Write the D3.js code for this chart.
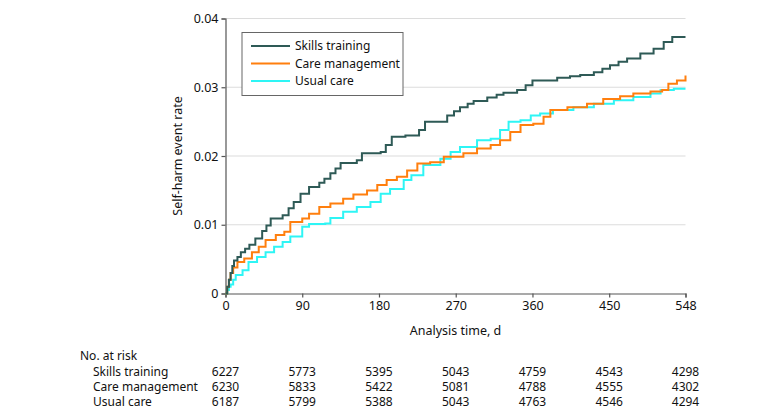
<!DOCTYPE html>
<html>
<head>
<meta charset="utf-8">
<script src="https://cdn.jsdelivr.net/npm/d3@7"></script>
<style>
body { margin: 0; background: #fff; }
svg { display: block; }
text { font-family: "Noto Sans", sans-serif; fill: #111; }
</style>
</head>
<body>
<div id="chart"></div>
<script>
// groups and colours
var groups = ["Skills training", "Care management", "Usual care"];
var colors = ["#2e5a56", "#ff7f0e", "#2ef5f5"];

// axis ticks
var xTicks = [0, 90, 180, 270, 360, 450, 548];
var yTicks = [0, 0.01, 0.02, 0.03, 0.04];

// number at risk per tick
var riskSkills = [6227, 5773, 5395, 5043, 4759, 4543, 4298];
var riskCare = [6230, 5833, 5422, 5081, 4788, 4555, 4302];
var riskUsual = [6187, 5799, 5388, 5043, 4763, 4546, 4294];

// cumulative event rate (step curves)
var skillsDays = [0, 2, 4, 6, 8, 10, 14, 18, 23, 28, 35, 43, 48, 53, 67, 74, 80, 88, 98, 110, 116, 123, 129, 135, 154, 160, 182, 188, 195, 211, 227, 234, 248, 260, 268, 275, 284, 291, 307, 318, 326, 342, 352, 360, 389, 404, 416, 432, 442, 451, 462, 473, 490, 507, 520, 531, 548];
var skillsRate = [0, 0.001, 0.002, 0.003, 0.004, 0.0048, 0.0053, 0.006, 0.0065, 0.0071, 0.008, 0.0091, 0.0099, 0.0109, 0.0114, 0.0124, 0.0133, 0.0145, 0.0155, 0.0161, 0.0167, 0.0175, 0.0182, 0.019, 0.0194, 0.0204, 0.0206, 0.0216, 0.0228, 0.023, 0.0238, 0.025, 0.025, 0.0259, 0.0265, 0.0271, 0.0276, 0.028, 0.0285, 0.0289, 0.0292, 0.0296, 0.0303, 0.031, 0.0314, 0.0316, 0.0318, 0.0322, 0.0327, 0.0332, 0.0337, 0.0342, 0.0349, 0.0356, 0.0366, 0.0373, 0.0373];

var careDays = [0, 2, 4, 6, 9, 14, 22, 31, 39, 47, 59, 69, 76, 90, 98, 110, 123, 138, 150, 166, 178, 189, 201, 213, 225, 240, 256, 279, 295, 311, 322, 334, 346, 361, 373, 381, 401, 424, 443, 464, 481, 503, 518, 526, 537, 548];
var careRate = [0, 0.001, 0.002, 0.003, 0.0038, 0.0046, 0.0051, 0.006, 0.0068, 0.0078, 0.0085, 0.009, 0.0104, 0.0109, 0.0116, 0.0126, 0.0131, 0.0138, 0.0144, 0.015, 0.0158, 0.0165, 0.017, 0.0179, 0.0189, 0.0191, 0.0199, 0.0204, 0.0211, 0.0216, 0.0223, 0.0235, 0.0245, 0.0247, 0.0257, 0.0267, 0.0271, 0.0276, 0.0283, 0.0287, 0.0291, 0.0294, 0.0296, 0.0305, 0.031, 0.0317];

var usualDays = [0, 2, 4, 6, 9, 12, 20, 27, 37, 47, 57, 67, 76, 90, 98, 117, 123, 138, 154, 170, 182, 193, 209, 218, 232, 252, 264, 275, 295, 311, 322, 332, 346, 358, 369, 384, 408, 432, 456, 481, 503, 516, 533, 548];
var usualRate = [0, 0.0005, 0.001, 0.0013, 0.002, 0.0027, 0.0034, 0.0046, 0.0053, 0.006, 0.0068, 0.0075, 0.0083, 0.0097, 0.0101, 0.0102, 0.011, 0.0119, 0.0126, 0.0133, 0.0145, 0.0152, 0.0165, 0.0172, 0.0187, 0.0196, 0.0206, 0.0213, 0.0223, 0.0225, 0.0238, 0.025, 0.0252, 0.0259, 0.0262, 0.0267, 0.0271, 0.0276, 0.0281, 0.0286, 0.0291, 0.0296, 0.0298, 0.0298];

var outerWidth = 780;
var outerHeight = 420;
var margin = { left: 225.5, top: 18.5, right: 94.5, bottom: 126.5 };
var innerWidth = outerWidth - margin.left - margin.right;
var innerHeight = outerHeight - margin.top - margin.bottom;

var svg = d3.select("#chart")
    .append("svg")
    .attr("width", outerWidth)
    .attr("height", outerHeight);
var g = svg.append("g")
    .attr("transform", "translate(" + margin.left + "," + margin.top + ")");

// the original axis is not linear on its last interval (450 -> 548)
var xScale = d3.scaleLinear()
    .domain([0, 450, 548])
    .range([0, innerWidth * 383.7 / 460, innerWidth]);
var yScale = d3.scaleLinear()
    .domain([0, 0.04])
    .range([innerHeight, 0]);

// gridlines
g.append("g").selectAll("line")
    .data(yTicks.slice(1))
    .enter()
    .append("line")
    .attr("x1", 0)
    .attr("x2", innerWidth)
    .attr("y1", function (d) { return yScale(d); })
    .attr("y2", function (d) { return yScale(d); })
    .attr("stroke", "#dcdcdc")
    .attr("stroke-width", 1.2);

// axes
var yAxis = d3.axisLeft(yScale)
    .tickValues(yTicks)
    .tickSize(4)
    .tickPadding(3)
    .tickFormat(function (d) { return d === 0 ? "0" : d3.format(".2f")(d); });
var xAxis = d3.axisBottom(xScale)
    .tickValues(xTicks)
    .tickSize(4)
    .tickPadding(4)
    .tickFormat(d3.format("d"));

var yAxisG = g.append("g").call(yAxis);
var xAxisG = g.append("g")
    .attr("transform", "translate(0," + innerHeight + ")")
    .call(xAxis);
[yAxisG, xAxisG].forEach(function (a) {
    a.select(".domain").attr("stroke", "#555").attr("stroke-width", 1.2);
    a.selectAll(".tick line").attr("stroke", "#555").attr("stroke-width", 1.2);
    a.selectAll(".tick text")
        .style("font-family", "'Noto Sans', sans-serif")
        .style("font-size", "12.5px")
        .attr("fill", "#111");
});

// axis titles
g.append("text")
    .attr("transform", "translate(" + (-48) + "," + (innerHeight / 2) + ") rotate(-90)")
    .attr("text-anchor", "middle")
    .attr("dy", "0.35em")
    .style("font-size", "12.5px")
    .text("Self-harm event rate");
g.append("text")
    .attr("x", innerWidth / 2)
    .attr("y", innerHeight + 41)
    .attr("text-anchor", "middle")
    .style("font-size", "12.5px")
    .text("Analysis time, d");

// step curves
var series = [
    { name: groups[2], days: usualDays, rate: usualRate, color: colors[2] },
    { name: groups[1], days: careDays, rate: careRate, color: colors[1] },
    { name: groups[0], days: skillsDays, rate: skillsRate, color: colors[0] }
];
var line = d3.line()
    .x(function (d) { return xScale(d[0]); })
    .y(function (d) { return yScale(d[1]); })
    .curve(d3.curveStepAfter);

g.selectAll("path.curve")
    .data(series)
    .enter()
    .append("path")
    .attr("class", "curve")
    .attr("d", function (s) { return line(d3.zip(s.days, s.rate)); })
    .attr("fill", "none")
    .attr("stroke", function (s) { return s.color; })
    .attr("stroke-width", 2);

// legend
var legendG = svg.append("g")
    .attr("transform", "translate(242,32.5)");
legendG.append("rect")
    .attr("width", 161)
    .attr("height", 63)
    .attr("fill", "#fff")
    .attr("stroke", "#666")
    .attr("stroke-width", 1);
var legendItems = legendG.selectAll("g.item")
    .data(groups)
    .enter()
    .append("g")
    .attr("class", "item")
    .attr("transform", function (d, i) { return "translate(0," + (13.5 + i * 17.5) + ")"; });
legendItems.append("line")
    .attr("x1", 9)
    .attr("x2", 48)
    .attr("stroke", function (d, i) { return colors[i]; })
    .attr("stroke-width", 2);
legendItems.append("text")
    .attr("x", 53)
    .attr("dy", "0.35em")
    .style("font-size", "12px")
    .text(function (d) { return d; });

// number at risk table
var table = svg.append("g");
table.append("text")
    .attr("x", 80)
    .attr("y", 359.5)
    .style("font-size", "12px")
    .text("No. at risk");
var riskRows = [riskSkills, riskCare, riskUsual];
riskRows.forEach(function (row, r) {
    var y = 375.5 + r * 15.4;
    table.append("text")
        .attr("x", 93)
        .attr("y", y)
        .style("font-size", "12px")
        .text(groups[r]);
    table.selectAll("text.n" + r)
        .data(row)
        .enter()
        .append("text")
        .attr("class", "n" + r)
        .attr("x", function (d, i) { return margin.left + xScale(xTicks[i]); })
        .attr("y", y)
        .attr("text-anchor", "middle")
        .style("font-size", "12px")
        .text(function (d) { return d; });
});
</script>
</body>
</html>
